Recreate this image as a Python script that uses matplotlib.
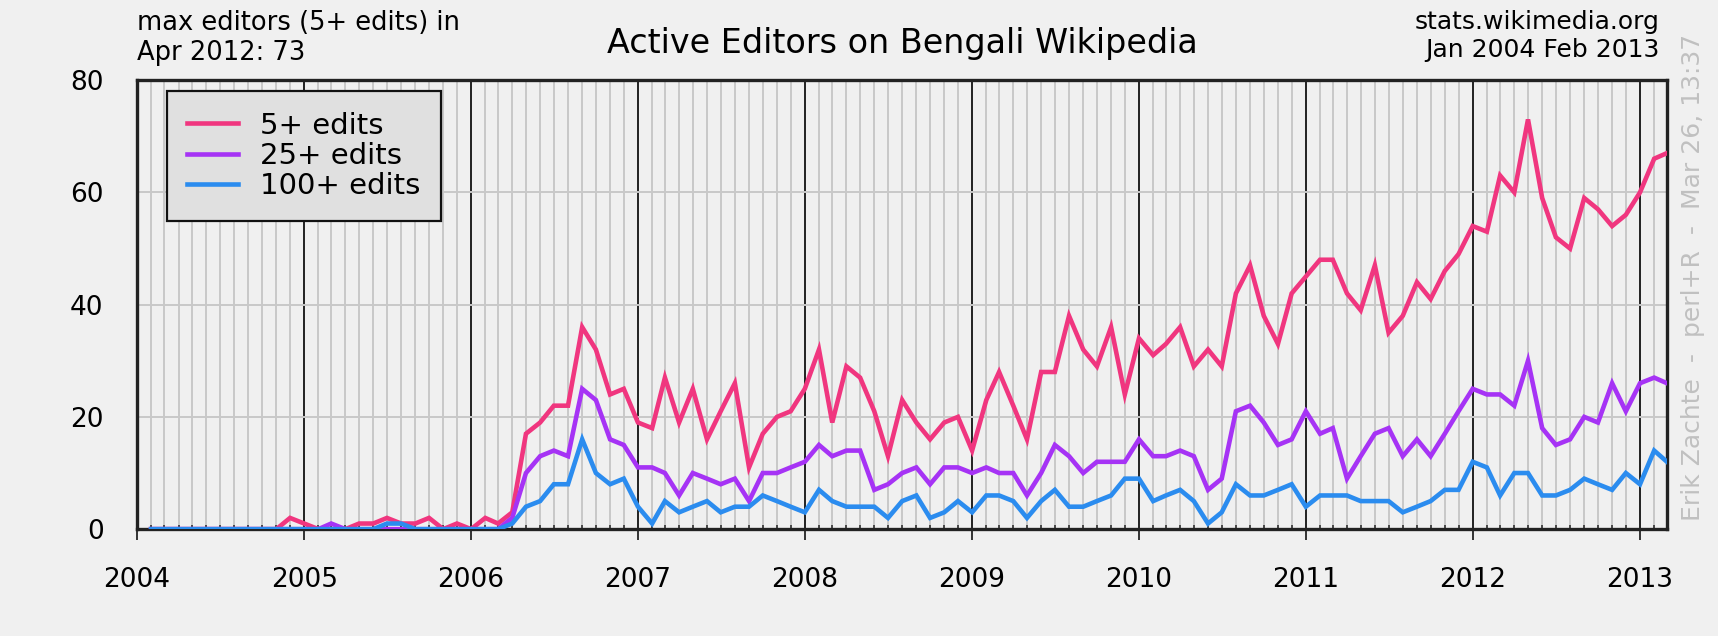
import matplotlib
matplotlib.use("Agg")
import matplotlib.pyplot as plt
import matplotlib.dates as mdates
import pandas as pd

# monthly active editors, Jan 2004 .. Feb 2013
months = pd.period_range("2004-01", "2013-02", freq="M")

edits_5 = [
    0, 0, 0, 0, 0, 0, 0, 0, 0, 0, 2, 1,
    0, 0, 0, 1, 1, 2, 1, 1, 2, 0, 1, 0,
    2, 1, 3, 17, 19, 22, 22, 36, 32, 24, 25, 19,
    18, 27, 19, 25, 16, 21, 26, 11, 17, 20, 21, 25,
    32, 19, 29, 27, 21, 13, 23, 19, 16, 19, 20, 14,
    23, 28, 22, 16, 28, 28, 38, 32, 29, 36, 24, 34,
    31, 33, 36, 29, 32, 29, 42, 47, 38, 33, 42, 45,
    48, 48, 42, 39, 47, 35, 38, 44, 41, 46, 49, 54,
    53, 63, 60, 73, 59, 52, 50, 59, 57, 54, 56, 60,
    66, 67,
]
edits_25 = [
    0, 0, 0, 0, 0, 0, 0, 0, 0, 0, 0, 0,
    0, 1, 0, 0, 0, 0, 0, 0, 0, 0, 0, 0,
    0, 0, 2, 10, 13, 14, 13, 25, 23, 16, 15, 11,
    11, 10, 6, 10, 9, 8, 9, 5, 10, 10, 11, 12,
    15, 13, 14, 14, 7, 8, 10, 11, 8, 11, 11, 10,
    11, 10, 10, 6, 10, 15, 13, 10, 12, 12, 12, 16,
    13, 13, 14, 13, 7, 9, 21, 22, 19, 15, 16, 21,
    17, 18, 9, 13, 17, 18, 13, 16, 13, 17, 21, 25,
    24, 24, 22, 30, 18, 15, 16, 20, 19, 26, 21, 26,
    27, 26,
]
edits_100 = [
    0, 0, 0, 0, 0, 0, 0, 0, 0, 0, 0, 0,
    0, 0, 0, 0, 0, 1, 1, 0, 0, 0, 0, 0,
    0, 0, 1, 4, 5, 8, 8, 16, 10, 8, 9, 4,
    1, 5, 3, 4, 5, 3, 4, 4, 6, 5, 4, 3,
    7, 5, 4, 4, 4, 2, 5, 6, 2, 3, 5, 3,
    6, 6, 5, 2, 5, 7, 4, 4, 5, 6, 9, 9,
    5, 6, 7, 5, 1, 3, 8, 6, 6, 7, 8, 4,
    6, 6, 6, 5, 5, 5, 3, 4, 5, 7, 7, 12,
    11, 6, 10, 10, 6, 6, 7, 9, 8, 7, 10, 8,
    14, 12,
]

series_labels = ["5+ edits", "25+ edits", "100+ edits"]
series_colors = ["#f0367f", "#a633f5", "#2b8cef"]
y_ticks = [0, 20, 40, 60, 80]

bg = "#f0f0f0"
plt.rcParams["font.family"] = ["DejaVu Sans"]

fig = plt.figure(figsize=(17.18, 6.36), dpi=100, facecolor=bg)
ax = fig.add_axes([0.0797, 0.168, 0.8906, 0.706], facecolor=bg)

# each month's value is drawn at the end of that month
x = (months + 1).to_timestamp()
for vals, label, color in zip([edits_5, edits_25, edits_100], series_labels, series_colors):
    ax.plot(x, vals, color=color, linewidth=3.3, label=label, solid_joinstyle="miter", zorder=3)

ax.set_xlim(pd.Timestamp("2004-01-01"), pd.Timestamp("2013-03-01"))
ax.set_ylim(0, 80)

ax.xaxis.set_major_locator(mdates.YearLocator())
ax.xaxis.set_major_formatter(mdates.DateFormatter("%Y"))
ax.xaxis.set_minor_locator(mdates.MonthLocator())
ax.set_yticks(y_ticks)

ax.grid(which="minor", axis="x", color="#c8c8c8", linewidth=1.4, zorder=1)
ax.grid(which="major", axis="x", color="#222222", linewidth=1.4, zorder=1)
ax.grid(which="major", axis="y", color="#c8c8c8", linewidth=1.4, zorder=1)
ax.set_axisbelow(True)

ax.tick_params(axis="x", which="major", length=8, width=1.4, color="#333333",
               pad=19, labelsize=19)
ax.tick_params(axis="x", which="minor", direction="in", length=3, width=1.2, color="#333333")
ax.tick_params(axis="y", length=0, pad=24, labelsize=19)

for spine in ax.spines.values():
    spine.set_color("#222222")
    spine.set_linewidth(2.4)

leg = ax.legend(loc="upper left", bbox_to_anchor=(0.0196, 0.9755), borderaxespad=0,
                fontsize=21, frameon=True, fancybox=False, framealpha=1,
                facecolor="#e0e0e0", edgecolor="#111111", handlelength=1.75,
                handletextpad=0.75, borderpad=0.7, labelspacing=0.08)
leg.get_frame().set_linewidth(1.6)

ax_mid = 0.0797 + 0.8906 / 2
fig.text(ax_mid, 0.932, "Active Editors on Bengali Wikipedia", ha="center", va="center", fontsize=24)
fig.text(0.0797, 0.985, "max editors (5+ edits) in\nApr 2012: 73", ha="left", va="top",
         fontsize=18.5, linespacing=1.2)
fig.text(0.9662, 0.985, "stats.wikimedia.org\nJan 2004 Feb 2013", ha="right", va="top",
         fontsize=18, linespacing=1.22, multialignment="right")
fig.text(0.9855, 0.563, "Erik Zachte  -  perl+R  -  Mar 26, 13:37", ha="center", va="center",
         rotation=90, fontsize=18, color="#c0c0c0")

fig.savefig("out.png", dpi=100, facecolor=bg)
